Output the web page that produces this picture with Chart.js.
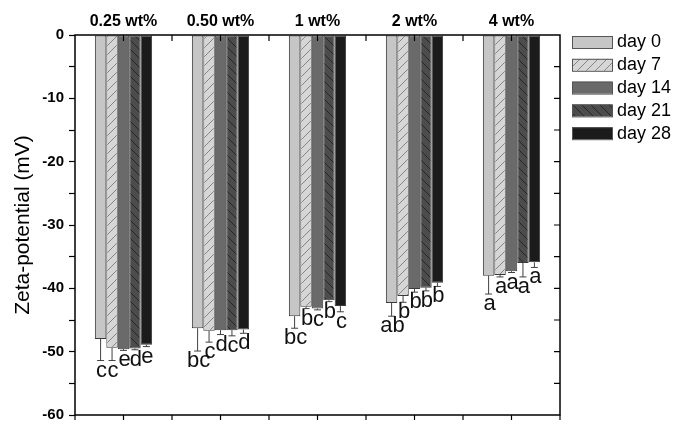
<!DOCTYPE html>
<html>
<head>
<meta charset="utf-8">
<script src="https://cdn.jsdelivr.net/npm/chart.js@4.4.1/dist/chart.umd.min.js"></script>
<style>
  html, body { margin: 0; padding: 0; background: #fff; }
  #wrap { width: 678px; height: 429px; position: relative; }
</style>
</head>
<body>
<div id="wrap"><canvas id="zetaChart"></canvas></div>
<script>
// concentrations (top labels) and storage days
const categories = ['0.25 wt%', '0.50 wt%', '1 wt%', '2 wt%', '4 wt%'];
const days = ['day 0', 'day 7', 'day 14', 'day 21', 'day 28'];

// zeta-potential (mV) per day, one value per concentration
const day0 = [-48.0, -46.3, -44.4, -42.3, -38.0];
const day7 = [-49.4, -46.7, -42.9, -41.2, -37.9];
const day14 = [-49.6, -46.6, -43.2, -40.1, -37.3];
const day21 = [-49.5, -46.6, -41.9, -39.9, -36.0];
const day28 = [-48.9, -46.5, -42.8, -39.1, -35.9];

// standard deviations
const err0 = [3.4, 3.6, 1.9, 2.1, 2.9];
const err7 = [2.0, 1.8, 0.3, 1.0, 0.3];
const err14 = [0.2, 0.7, 0.2, 0.5, 0.2];
const err21 = [0.2, 0.9, 0.2, 0.5, 2.2];
const err28 = [0.3, 0.6, 0.9, 0.6, 0.8];

// significance letters
const let0 = ['c', 'bc', 'bc', 'ab', 'a'];
const let7 = ['c', 'c', 'b', 'b', 'a'];
const let14 = ['e', 'd', 'c', 'b', 'a'];
const let21 = ['d', 'c', 'b', 'b', 'a'];
const let28 = ['e', 'd', 'c', 'b', 'a'];

const yTicks = [0, -10, -20, -30, -40, -50, -60];

const FONT = "Arial, 'Liberation Sans', sans-serif";

function hatch(bg, line, dir) {
    const c = document.createElement('canvas');
    c.width = 9; c.height = 9;
    const g = c.getContext('2d');
    g.fillStyle = bg;
    g.fillRect(0, 0, 9, 9);
    g.strokeStyle = line;
    g.lineWidth = 1;
    g.beginPath();
    if (dir === '/') {
        g.moveTo(-1, 10); g.lineTo(10, -1);
        g.moveTo(-1, 1); g.lineTo(1, -1);
        g.moveTo(8, 10); g.lineTo(10, 8);
    } else {
        g.moveTo(-1, -1); g.lineTo(10, 10);
        g.moveTo(8, -1); g.lineTo(10, 1);
        g.moveTo(-1, 8); g.lineTo(1, 10);
    }
    g.stroke();
    return g.createPattern(c, 'repeat');
}

const fills = [
    '#c6c6c6',
    hatch('#d6d6d6', '#858585', '/'),
    '#6a6a6a',
    hatch('#4c4c4c', '#262626', '\\'),
    '#1b1b1b'
];
const series = [day0, day7, day14, day21, day28];
const errs = [err0, err7, err14, err21, err28];
const letters = [let0, let7, let14, let21, let28];

const ctx = document.getElementById('zetaChart').getContext('2d');

// frame, ticks, top labels, error bars, letters and legend
const decorations = {
    id: 'decorations',
    afterDatasetsDraw(chart) {
        const g = chart.ctx;
        const area = chart.chartArea;
        const x = chart.scales.x;
        const y = chart.scales.y;
        const catW = (area.right - area.left) / categories.length;

        // error bars
        g.save();
        g.strokeStyle = '#404040';
        g.lineWidth = 1;
        series.forEach((data, d) => {
            const meta = chart.getDatasetMeta(d);
            meta.data.forEach((bar, i) => {
                const yv = y.getPixelForValue(data[i]);
                const ye = y.getPixelForValue(data[i] - errs[d][i]);
                g.beginPath();
                g.moveTo(bar.x, yv);
                g.lineTo(bar.x, ye);
                g.moveTo(bar.x - 3.5, ye);
                g.lineTo(bar.x + 3.5, ye);
                g.stroke();
            });
        });

        // letters
        g.fillStyle = '#111';
        g.font = '22px ' + FONT;
        g.textAlign = 'center';
        g.textBaseline = 'top';
        series.forEach((data, d) => {
            const meta = chart.getDatasetMeta(d);
            meta.data.forEach((bar, i) => {
                const ye = y.getPixelForValue(data[i] - errs[d][i]);
                g.fillText(letters[d][i], bar.x + 1, ye - 1);
            });
        });

        // frame
        g.strokeStyle = '#000';
        g.lineWidth = 1.5;
        g.strokeRect(area.left, area.top, area.right - area.left, area.bottom - area.top);

        // x ticks: inward at top, outward at bottom
        g.lineWidth = 1.2;
        g.beginPath();
        for (let k = 0; k <= categories.length * 2; k++) {
            const px = area.left + k * catW / 2;
            if (k > 0 && k < categories.length * 2) {
                g.moveTo(px, area.top);
                g.lineTo(px, area.top + 6);
            }
            g.moveTo(px, area.bottom);
            g.lineTo(px, area.bottom + 5);
        }
        // right axis ticks, inward
        for (let v = -55; v < 0; v += 5) {
            const py = y.getPixelForValue(v);
            g.moveTo(area.right, py);
            g.lineTo(area.right - 6, py);
        }
        g.stroke();

        // concentration labels above the plot
        g.fillStyle = '#000';
        g.font = 'bold 16px ' + FONT;
        g.textAlign = 'center';
        g.textBaseline = 'middle';
        categories.forEach((c, i) => {
            g.fillText(c, x.getPixelForValue(i), 22);
        });

        // legend
        g.font = '18px ' + FONT;
        g.textAlign = 'left';
        days.forEach((dname, d) => {
            const top = 36 + d * 22.8;
            g.fillStyle = fills[d];
            g.fillRect(572, top, 40, 12);
            g.strokeStyle = '#555';
            g.lineWidth = 1;
            g.strokeRect(572.5, top + 0.5, 40, 12);
            g.fillStyle = '#000';
            g.fillText(dname, 617, top + 6.5);
        });
        g.restore();
    }
};

const zetaChart = new Chart(ctx, {
    type: 'bar',
    data: {
        labels: categories,
        datasets: series.map((data, d) => ({
            label: days[d],
            data: data,
            backgroundColor: fills[d],
            borderColor: '#3a3a3a',
            borderWidth: 1,
            borderSkipped: false,
            barPercentage: 1.0,
            categoryPercentage: 0.59
        }))
    },
    options: {
        responsive: true,
        maintainAspectRatio: false,
        animation: false,
        layout: {
            padding: { top: 35, right: 118, bottom: 5, left: 0 }
        },
        plugins: {
            legend: { display: false },
            tooltip: { enabled: false }
        },
        scales: {
            x: {
                display: false
            },
            y: {
                min: -60,
                max: 0,
                afterFit(scale) { scale.width = 75; },
                ticks: {
                    stepSize: 5,
                    padding: 5,
                    color: '#000',
                    font: { family: FONT, size: 15, weight: 'bold' },
                    callback: (v) => yTicks.includes(v) ? String(v) : ''
                },
                grid: {
                    drawOnChartArea: false,
                    tickLength: 6,
                    tickWidth: 1.2,
                    tickColor: '#000'
                },
                border: { display: false },
                title: {
                    display: true,
                    text: 'Zeta-potential (mV)',
                    color: '#000',
                    font: { family: FONT, size: 21 },
                    padding: { top: 11, bottom: 0 }
                }
            }
        }
    },
    plugins: [decorations]
});
</script>
</body>
</html>
